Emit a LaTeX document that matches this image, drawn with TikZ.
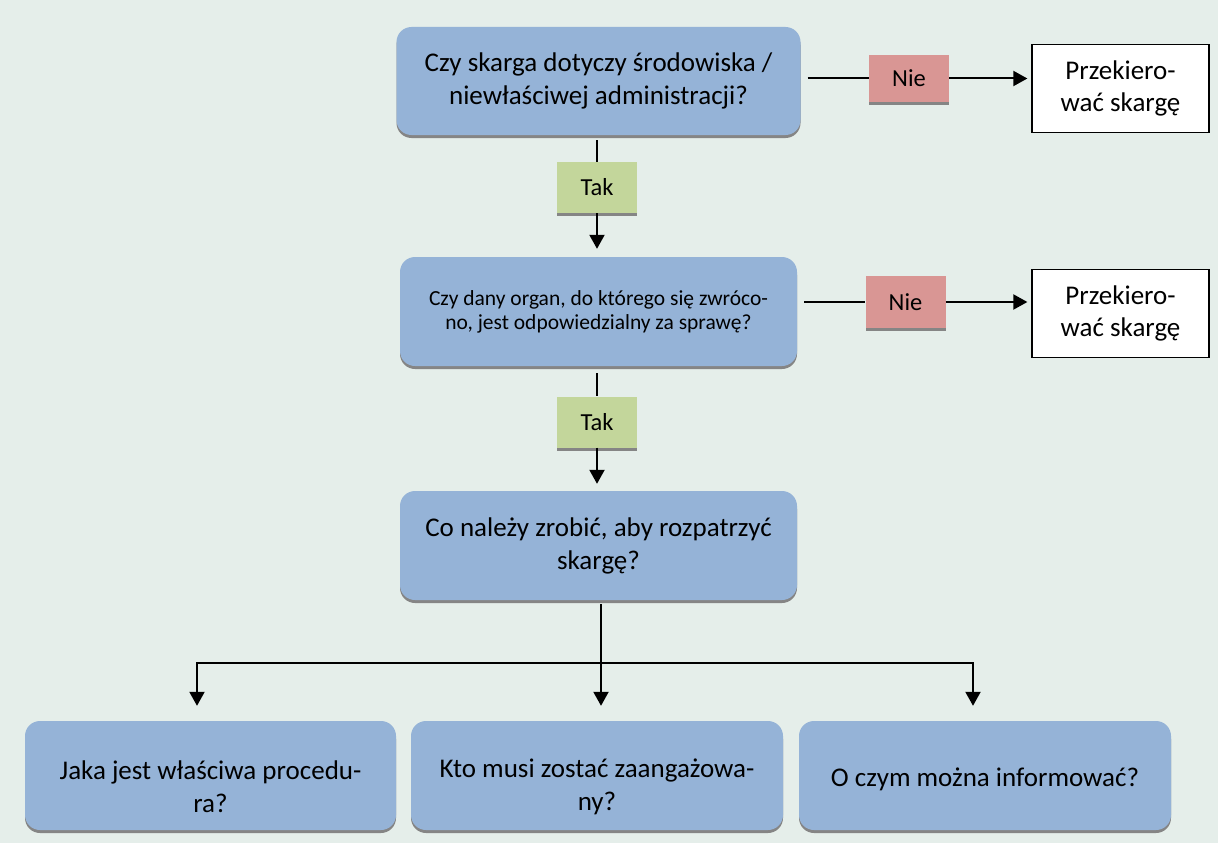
\documentclass[tikz,border=0pt]{standalone}
\usepackage{fontspec}
\setmainfont{Carlito}
\usetikzlibrary{arrows.meta,shadows}

\definecolor{pagebg}{HTML}{E5EEEA}
\definecolor{qblue}{HTML}{95B3D7}
\definecolor{nored}{HTML}{D99694}
\definecolor{yesgreen}{HTML}{C3D69B}
\definecolor{shadowgray}{HTML}{858585}

\tikzset{
  boxshadow/.style={drop shadow={shadow xshift=0pt, shadow yshift=-3pt, fill=shadowgray, opacity=1}},
  question/.style={boxshadow, fill=qblue, rounded corners=15pt, align=center,
    inner sep=0pt, text=black},
  bigtext/.style={font=\fontsize{27}{33}\selectfont, align=center},
  answerno/.style={boxshadow, fill=nored, minimum width=80pt, minimum height=47pt,
    inner sep=0pt, font=\fontsize{24.5}{28}\selectfont},
  answeryes/.style={boxshadow, fill=yesgreen, minimum width=80pt, minimum height=51pt,
    inner sep=0pt, font=\fontsize{24.5}{28}\selectfont},
  redirect/.style={draw=black, line width=1.3pt, fill=white, minimum width=177pt,
    minimum height=88pt, inner sep=0pt, align=center,
    font=\fontsize{27}{32}\selectfont},
  link/.style={draw=black, line width=2pt},
  arrow/.style={link, -{Triangle[width=15pt,length=14pt]}},
}

\begin{document}
\begin{tikzpicture}[x=1pt,y=-1pt]
  \fill[pagebg] (0,0) rectangle (1218,843);
  \useasboundingbox (0,0) rectangle (1218,843);

  % question boxes
  \node[question, bigtext, minimum width=404pt, minimum height=108pt] (q1) at (598.5,81)
        {Czy skarga dotyczy środowiska /\\niewłaściwej administracji?};
  \node[question, minimum width=397pt, minimum height=109pt,
        font=\fontsize{21.5}{24}\selectfont] (q2) at (598.5,311.5)
        {Czy dany organ, do którego się zwróco-\\no, jest odpowiedzialny za sprawę?};
  \node[question, bigtext, minimum width=397pt, minimum height=109pt] (q3) at (598.5,545.5)
        {Co należy zrobić, aby rozpatrzyć\\skargę?};

  % sub-question boxes, text set a little below centre
  \node[question, minimum width=371pt, minimum height=109pt] (a1) at (210.5,775.5) {};
  \node[question, minimum width=372pt, minimum height=109pt] (a2) at (597,775.5) {};
  \node[question, minimum width=372pt, minimum height=109pt] (a3) at (985,775.5) {};
  \node[bigtext] (a1text) at ([yshift=-11pt]a1.center) {Jaka jest właściwa procedu-\\ra?};
  \node[bigtext] (a2text) at ([yshift=-11pt]a2.center) {Kto musi zostać zaangażowa-\\ny?};
  \node[bigtext] (a3text) at ([yshift=-4pt]a3.center) {O czym można informować?};

  % redirect boxes
  \node[redirect] (r1) at (1120.5,88.5) {Przekiero-\\wać skargę};
  \node[redirect] (r2) at (1120.5,313.5) {Przekiero-\\wać skargę};

  % decision labels
  \node[answerno] (n1) at (909,78.5) {Nie};
  \node[answerno, minimum height=52pt] (n2) at (905.5,302) {Nie};
  \node[answeryes] (y1) at (597,187.5) {Tak};
  \node[answeryes] (y2) at (597,422) {Tak};

  % "no" branches
  \draw[link] ([xshift=7pt]q1.east |- n1.west) -- (n1.west);
  \draw[arrow, shorten >=4pt] (n1.east) -- (r1.west |- n1.east);
  \draw[link] ([xshift=7pt]q2.east |- n2.west) -- (n2.west);
  \draw[arrow, shorten >=4pt] (n2.east) -- (r2.west |- n2.east);

  % "yes" branches
  \draw[link, shorten <=5pt] (q1.south -| y1.north) -- (y1.north);
  \draw[arrow, shorten >=8pt] (y1.south) -- (q2.north -| y1.south);
  \draw[link, shorten <=7pt] (q2.south -| y2.north) -- (y2.north);
  \draw[arrow, shorten >=7pt] (y2.south) -- (q3.north -| y2.south);

  % fan-out to the three sub-questions
  \coordinate (split) at (601,663);
  \draw[link, shorten <=4pt] (q3.south -| split) -- (split);
  \draw[arrow, shorten >=15pt] (split) -| ([xshift=-13.5pt]a1.north);
  \draw[arrow, shorten >=15pt] (split) -- (a2.north -| split);
  \draw[arrow, shorten >=15pt] (split) -| ([xshift=-12pt]a3.north);
\end{tikzpicture}
\end{document}
